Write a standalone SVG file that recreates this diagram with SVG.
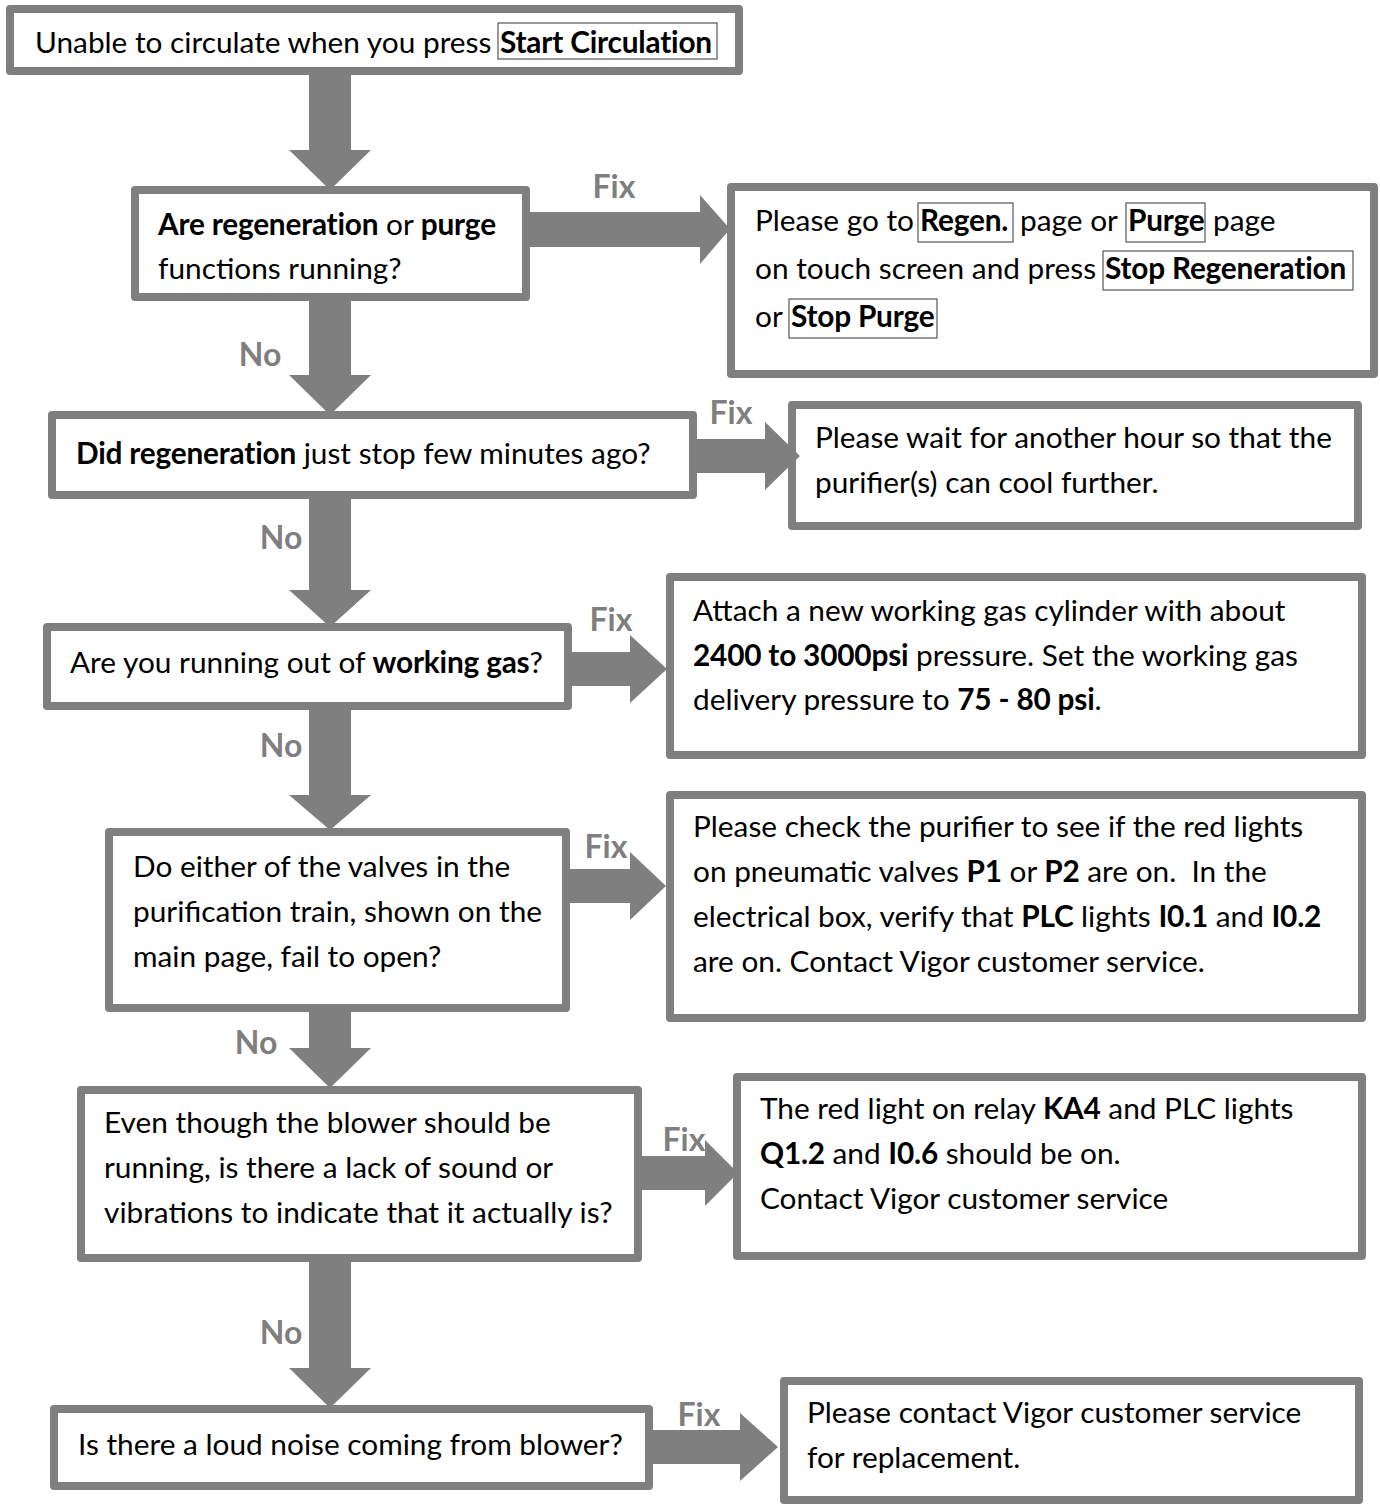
<svg xmlns="http://www.w3.org/2000/svg" width="1380" height="1507" viewBox="0 0 1380 1507">
<style>
.box{fill:#fff;stroke:#7f7f7f;stroke-width:8;stroke-linejoin:round}
.btn{fill:#fff;stroke:#555;stroke-width:1.2}
.t{font-family:Lato,"Liberation Sans",sans-serif;font-size:29.8px;fill:#000}
.b{font-weight:bold;letter-spacing:-0.2px}
.lbl{font-family:Lato,"Liberation Sans",sans-serif;font-size:32px;font-weight:bold;fill:#7f7f7f;text-anchor:middle}
.arr{fill:#7f7f7f}
</style>
<rect width="1380" height="1507" fill="#fff"/>
<g id="n1">
<rect class="box" x="10" y="9" width="729" height="62"/>
<rect class="btn" x="498" y="23" width="219" height="36"/>
<text class="t" x="35" y="53">Unable to circulate when you press</text>
<text class="t b" x="500" y="53">Start Circulation</text>
</g>
<g id="n2">
<rect class="box" x="135" y="190" width="391" height="107"/>
<text class="t" x="158" y="235"><tspan class="b">Are regeneration</tspan> or <tspan class="b">purge</tspan></text>
<text class="t" x="158" y="279">functions running?</text>
</g>
<g id="n3">
<rect class="box" x="731" y="187" width="643" height="187"/>
<rect class="btn" x="918" y="203" width="95" height="39"/>
<rect class="btn" x="1126" y="203" width="79" height="39"/>
<rect class="btn" x="1103" y="251" width="250" height="39"/>
<rect class="btn" x="789" y="299" width="148" height="39"/>
<text class="t" x="755" y="231">Please go to</text>
<text class="t b" x="920" y="231">Regen.</text>
<text class="t" x="1020" y="231">page or</text>
<text class="t b" x="1128" y="231">Purge</text>
<text class="t" x="1213" y="231">page</text>
<text class="t" x="755" y="279">on touch screen and press</text>
<text class="t b" x="1105" y="279">Stop Regeneration</text>
<text class="t" x="755" y="327">or</text>
<text class="t b" x="791" y="327">Stop Purge</text>
</g>
<g id="n4">
<rect class="box" x="52" y="415" width="641" height="80"/>
<text class="t" x="76" y="464"><tspan class="b">Did regeneration</tspan> just stop few minutes ago?</text>
</g>
<g id="n5">
<rect class="box" x="792" y="405" width="566" height="121"/>
<text class="t" x="815" y="448">Please wait for another hour so that the</text>
<text class="t" x="815" y="493">purifier(s) can cool further.</text>
</g>
<g id="n6">
<rect class="box" x="47" y="627" width="521" height="79"/>
<text class="t" x="70" y="673">Are you running out of <tspan class="b">working gas</tspan>?</text>
</g>
<g id="n7">
<rect class="box" x="670" y="577" width="692" height="178"/>
<text class="t" x="693" y="621">Attach a new working gas cylinder with about</text>
<text class="t" x="693" y="666"><tspan class="b">2400 to 3000psi</tspan> pressure. Set the working gas</text>
<text class="t" x="693" y="710">delivery pressure to <tspan class="b">75 - 80 psi</tspan>.</text>
</g>
<g id="n8">
<rect class="box" x="109" y="832" width="457" height="176"/>
<text class="t" x="133" y="877">Do either of the valves in the</text>
<text class="t" x="133" y="922">purification train, shown on the</text>
<text class="t" x="133" y="967">main page, fail to open?</text>
</g>
<g id="n9">
<rect class="box" x="670" y="795" width="692" height="223"/>
<text class="t" x="693" y="837">Please check the purifier to see if the red lights</text>
<text class="t" x="693" y="882">on pneumatic valves <tspan class="b">P1</tspan> or <tspan class="b">P2</tspan> are on.&#160; In the</text>
<text class="t" x="693" y="927">electrical box, verify that <tspan class="b">PLC</tspan> lights <tspan class="b">I0.1</tspan> and <tspan class="b">I0.2</tspan></text>
<text class="t" x="693" y="972">are on. Contact Vigor customer service.</text>
</g>
<g id="n10">
<rect class="box" x="81" y="1090" width="557" height="168"/>
<text class="t" x="104" y="1133">Even though the blower should be</text>
<text class="t" x="104" y="1178">running, is there a lack of sound or</text>
<text class="t" x="104" y="1223">vibrations to indicate that it actually is?</text>
</g>
<g id="n11">
<rect class="box" x="737" y="1077" width="625" height="179"/>
<text class="t" x="760" y="1119">The red light on relay <tspan class="b">KA4</tspan> and PLC lights</text>
<text class="t" x="760" y="1164"><tspan class="b">Q1.2</tspan> and <tspan class="b">I0.6</tspan> should be on.</text>
<text class="t" x="760" y="1209">Contact Vigor customer service</text>
</g>
<g id="n12">
<rect class="box" x="54" y="1409" width="595" height="77"/>
<text class="t" x="78" y="1455">Is there a loud noise coming from blower?</text>
</g>
<g id="n13">
<rect class="box" x="784" y="1381" width="575" height="119"/>
<text class="t" x="807" y="1423">Please contact Vigor customer service</text>
<text class="t" x="807" y="1468">for replacement.</text>
</g>
<g id="connectors">
<path class="arr" d="M309 75H351V150H371L330 190L289 150H309Z"/>
<path class="arr" d="M309 301H351V375H371L330 415L289 375H309Z"/>
<path class="arr" d="M309 499H351V590H371L330 627L289 590H309Z"/>
<path class="arr" d="M309 710H351V795H371L330 830L289 795H309Z"/>
<path class="arr" d="M309 1012H351V1048H371L330 1088L289 1048H309Z"/>
<path class="arr" d="M309 1262H351V1368H371L330 1408L289 1368H309Z"/>
<path class="arr" d="M530 212V247H700V264L730 229L700 195V212Z"/>
<path class="arr" d="M697 439V473H765V490L800 456L765 422V439Z"/>
<path class="arr" d="M572 652V686H630V703L667 669L630 635V652Z"/>
<path class="arr" d="M570 869V903H630V920L666 886L630 852V869Z"/>
<path class="arr" d="M642 1156V1190H705V1206L738 1173L705 1140V1156Z"/>
<path class="arr" d="M653 1430V1464H740V1481L778 1447L740 1413V1430Z"/>
<text class="lbl" x="614" y="198">Fix</text>
<text class="lbl" x="731" y="424">Fix</text>
<text class="lbl" x="611" y="631">Fix</text>
<text class="lbl" x="606" y="858">Fix</text>
<text class="lbl" x="684" y="1151">Fix</text>
<text class="lbl" x="699" y="1426">Fix</text>
<text class="lbl" x="260" y="366">No</text>
<text class="lbl" x="281" y="549">No</text>
<text class="lbl" x="281" y="757">No</text>
<text class="lbl" x="256" y="1054">No</text>
<text class="lbl" x="281" y="1344">No</text>
</g>
</svg>
